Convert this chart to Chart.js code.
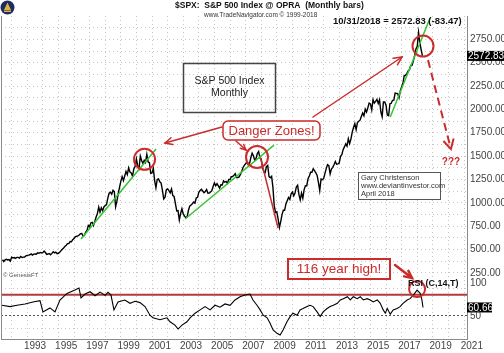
<!DOCTYPE html>
<html>
<head>
<meta charset="utf-8">
<script src="https://cdn.jsdelivr.net/npm/chart.js@4.4.0/dist/chart.umd.min.js"></script>
<style>
  html, body { margin: 0; padding: 0; background: #fff; }
  #wrap { position: relative; width: 504px; height: 353px; }
</style>
</head>
<body>
<div id="wrap"><canvas id="spx" width="504" height="353"></canvas></div>
<script>
// S&P 500 monthly closes, first value is May 1991
const firstYear = 1991;
const firstMonth = 5;
const closes = [
  390, 371, 388, 395, 388, 392, 375, 417,
  409, 413, 404, 415, 415, 408, 424, 414, 418, 419, 431, 436,
  439, 443, 452, 440, 450, 451, 448, 464, 459, 468, 462, 466,
  482, 467, 446, 451, 457, 444, 458, 475, 463, 472, 454, 459,
  470, 487, 501, 515, 533, 545, 562, 562, 584, 582, 605, 616,
  636, 641, 646, 654, 669, 671, 640, 652, 687, 705, 757, 741,
  786, 791, 757, 801, 848, 885, 954, 899, 947, 915, 955, 970,
  980, 1049, 1102, 1112, 1091, 1134, 1121, 957, 1017, 1099, 1164, 1229,
  1280, 1238, 1286, 1335, 1302, 1373, 1329, 1320, 1283, 1363, 1389, 1469,
  1394, 1366, 1499, 1452, 1421, 1455, 1431, 1518, 1437, 1429, 1315, 1320,
  1366, 1240, 1160, 1249, 1256, 1224, 1211, 1134, 1041, 1060, 1139, 1148,
  1130, 1107, 1147, 1077, 1067, 990, 912, 916, 815, 886, 936, 880,
  856, 841, 848, 917, 964, 975, 990, 1008, 996, 1051, 1058, 1112,
  1131, 1145, 1126, 1107, 1121, 1141, 1102, 1104, 1115, 1130, 1174, 1212,
  1181, 1204, 1181, 1157, 1192, 1191, 1234, 1220, 1229, 1207, 1249, 1248,
  1280, 1281, 1295, 1311, 1270, 1270, 1277, 1304, 1336, 1378, 1401, 1418,
  1438, 1407, 1421, 1482, 1531, 1503, 1455, 1474, 1527, 1549, 1481, 1468,
  1379, 1331, 1323, 1386, 1400, 1280, 1267, 1283, 1165, 969, 896, 903,
  826, 735, 798, 873, 919, 919, 987, 1021, 1057, 1036, 1096, 1115,
  1074, 1104, 1169, 1187, 1089, 1031, 1102, 1049, 1141, 1183, 1181, 1258,
  1286, 1327, 1326, 1364, 1345, 1321, 1292, 1219, 1131, 1253, 1247, 1258,
  1312, 1366, 1408, 1398, 1310, 1362, 1379, 1407, 1441, 1412, 1416, 1426,
  1498, 1515, 1569, 1598, 1631, 1606, 1686, 1633, 1682, 1757, 1806, 1848,
  1783, 1859, 1872, 1884, 1924, 1960, 1931, 2003, 1972, 2018, 2068, 2059,
  1995, 2105, 2068, 2086, 2107, 2063, 2104, 1972, 1920, 2079, 2080, 2044,
  1940, 1932, 2060, 2065, 2097, 2099, 2174, 2171, 2168, 2126, 2199, 2239,
  2279, 2364, 2363, 2384, 2412, 2423, 2470, 2472, 2519, 2575, 2648, 2674,
  2824, 2714, 2641, 2573
];

// RSI(C,14) lower panel, [year, value]
const rsiPoints = [
  [1991.38, 64], [1991.90, 62], [1992.35, 64], [1992.86, 66], [1993.37, 69], [1993.82, 71],
  [1994.01, 54], [1994.46, 60], [1994.78, 54], [1995.10, 72], [1995.55, 82], [1996.06, 87],
  [1996.32, 90], [1996.45, 75], [1996.71, 81], [1997.03, 84.5], [1997.35, 78.5], [1997.67, 84],
  [1997.99, 79], [1998.18, 83.6], [1998.37, 79.5], [1998.56, 57], [1998.82, 69], [1999.26, 72],
  [1999.59, 67], [1999.91, 70], [2000.23, 68], [2000.55, 62], [2000.87, 49], [2001.06, 45],
  [2001.51, 42], [2001.96, 45], [2002.15, 39], [2002.47, 34], [2002.67, 28], [2002.92, 34],
  [2003.24, 39], [2003.44, 45], [2003.76, 52], [2004.08, 57], [2004.40, 62], [2004.72, 57],
  [2005.04, 64], [2005.36, 61], [2005.68, 66], [2006.00, 64], [2006.32, 72], [2006.64, 77],
  [2006.96, 79.5], [2007.28, 81], [2007.47, 72], [2007.73, 64], [2007.93, 57], [2008.13, 49],
  [2008.38, 45], [2008.56, 37], [2008.76, 26.5], [2009.01, 21.5], [2009.21, 19], [2009.40, 26.5],
  [2009.65, 39], [2009.85, 46.7], [2010.04, 52], [2010.30, 49], [2010.49, 57], [2010.68, 59],
  [2010.94, 62], [2011.13, 64], [2011.33, 62], [2011.58, 54], [2011.78, 47], [2011.97, 54],
  [2012.22, 59], [2012.42, 62], [2012.62, 64], [2012.88, 67], [2013.07, 72], [2013.26, 74],
  [2013.52, 77], [2013.71, 72], [2013.90, 77], [2014.15, 74], [2014.35, 77], [2014.54, 72],
  [2014.79, 74], [2014.99, 72], [2015.18, 69], [2015.44, 72], [2015.63, 67], [2015.82, 57],
  [2015.95, 52], [2016.08, 59], [2016.27, 50.5], [2016.46, 57], [2016.71, 59], [2016.90, 62],
  [2017.09, 67], [2017.35, 72], [2017.54, 74], [2017.74, 79], [2017.99, 87], [2018.19, 82],
  [2018.30, 72], [2018.37, 60.66]
];

const priceTicks = [250, 500, 750, 1000, 1250, 1500, 1750, 2000, 2250, 2500, 2750];
const priceGrid = [250, 375, 500, 625, 750, 875, 1000, 1125, 1250, 1375, 1500, 1625, 1750,
  1875, 2000, 2125, 2250, 2375, 2500, 2625, 2750, 2875];
const rsiTicks = [50, 100];
const rsiGrid = [30, 90];
const rsiWarn = 80;
const gridYears = [];
for (let y = 1992; y <= 2021; y++) gridYears.push(y);
const yearLabels = [1993, 1995, 1997, 1999, 2001, 2003, 2005, 2007, 2009, 2011, 2013, 2015, 2017, 2019, 2021];

// drawn-in lines (year, price)
const trendA = [[1996.45, 612], [2001.26, 1575]];
const trendB = [[2003.12, 826], [2008.82, 1618]];
const trendC = [[2016.27, 1918], [2018.82, 2978]];
const crash = [[2007.94, 1490], [2009.08, 730]];
const projection = [[2018.69, 2528], [2020.16, 1575]];
const circles = [
  { x: 2000.52, y: 1465, axis: 'y', r: 10.5 },
  { x: 2007.73, y: 1490, axis: 'y', r: 11 },
  { x: 2018.37, y: 2678, axis: 'y', r: 10.5 },
  { x: 2017.99, y: 88.6, axis: 'y2', r: 8 }
];
const lastPrice = 2572.83;
const lastRsi = 60.66;

const RED = '#cc2b2b';
const FONT = 'Liberation Sans, Arial, sans-serif';
Chart.defaults.font.family = FONT;

const toXY = (pts) => pts.map(p => ({ x: p[0], y: p[1] }));
const priceData = closes.map((v, i) => ({ x: firstYear + (firstMonth + i) / 12, y: v }));

function arrow(ctx, x1, y1, x2, y2, head, width, color) {
  ctx.save();
  ctx.strokeStyle = color;
  ctx.lineWidth = width;
  ctx.lineCap = 'round';
  ctx.beginPath();
  ctx.moveTo(x1, y1);
  ctx.lineTo(x2, y2);
  ctx.stroke();
  const a = Math.atan2(y2 - y1, x2 - x1);
  ctx.beginPath();
  ctx.moveTo(x2 - head * Math.cos(a - 0.45), y2 - head * Math.sin(a - 0.45));
  ctx.lineTo(x2, y2);
  ctx.lineTo(x2 - head * Math.cos(a + 0.45), y2 - head * Math.sin(a + 0.45));
  ctx.stroke();
  ctx.restore();
}

function text(ctx, s, x, y, font, color, align) {
  ctx.font = font;
  ctx.fillStyle = color;
  ctx.textAlign = align || 'left';
  ctx.textBaseline = 'middle';
  ctx.fillText(s, x, y);
}

const decorations = {
  id: 'decorations',
  beforeDraw(chart) {
    const ctx = chart.ctx;
    ctx.save();
    ctx.fillStyle = '#fff';
    ctx.fillRect(0, 0, chart.width, chart.height);
    ctx.restore();
  },
  beforeDatasetsDraw(chart) {
    const { ctx, chartArea: ca, scales } = chart;
    const y2 = scales.y2;
    ctx.save();
    // rsi grid
    ctx.lineWidth = 1;
    ctx.setLineDash([1, 3]);
    ctx.strokeStyle = '#c8c8c8';
    rsiGrid.forEach(v => {
      const py = Math.round(y2.getPixelForValue(v)) + 0.5;
      ctx.beginPath(); ctx.moveTo(ca.left, py); ctx.lineTo(ca.right, py); ctx.stroke();
    });
    ctx.strokeStyle = '#555';
    ctx.setLineDash([2, 2]);
    const p50 = Math.round(y2.getPixelForValue(50)) + 0.5;
    ctx.beginPath(); ctx.moveTo(ca.left, p50); ctx.lineTo(ca.right, p50); ctx.stroke();
    // warning level
    ctx.setLineDash([]);
    ctx.strokeStyle = '#b23a3a';
    ctx.lineWidth = 2;
    const pw = y2.getPixelForValue(rsiWarn);
    ctx.beginPath(); ctx.moveTo(ca.left, pw); ctx.lineTo(ca.right, pw); ctx.stroke();
    ctx.restore();
  },
  afterDraw(chart) {
    const { ctx, chartArea: ca, scales } = chart;
    const x = scales.x;
    ctx.save();

    // left frame
    ctx.strokeStyle = '#8a8a8a';
    ctx.lineWidth = 1;
    ctx.beginPath(); ctx.moveTo(ca.left + 0.5, ca.top); ctx.lineTo(ca.left + 0.5, ca.bottom); ctx.stroke();

    // circles
    ctx.strokeStyle = RED;
    ctx.lineWidth = 2;
    circles.forEach(c => {
      ctx.beginPath();
      ctx.arc(x.getPixelForValue(c.x), scales[c.axis].getPixelForValue(c.y), c.r, 0, Math.PI * 2);
      ctx.stroke();
    });

    // projection arrow head + ???
    const pa = projection[0], pb = projection[1];
    const ax = x.getPixelForValue(pa[0]), ay = scales.y.getPixelForValue(pa[1]);
    const bx = x.getPixelForValue(pb[0]), by = scales.y.getPixelForValue(pb[1]);
    const ang = Math.atan2(by - ay, bx - ax);
    ctx.lineWidth = 2;
    ctx.beginPath();
    ctx.moveTo(bx - 11 * Math.cos(ang - 0.5), by - 11 * Math.sin(ang - 0.5));
    ctx.lineTo(bx, by);
    ctx.lineTo(bx - 11 * Math.cos(ang + 0.5), by - 11 * Math.sin(ang + 0.5));
    ctx.stroke();
    text(ctx, '???', bx, by + 13, 'bold 10px ' + FONT, RED, 'center');

    // S&P box
    ctx.strokeStyle = '#444';
    ctx.lineWidth = 1.5;
    ctx.strokeRect(183.5, 63.5, 92, 49);
    text(ctx, 'S&P 500 Index', 229.5, 81, '10.5px ' + FONT, '#222', 'center');
    text(ctx, 'Monthly', 229.5, 93, '10.5px ' + FONT, '#222', 'center');

    // Danger Zones callout
    ctx.strokeStyle = RED;
    ctx.lineWidth = 1.5;
    ctx.beginPath();
    ctx.roundRect(223, 121, 97, 19, 5);
    ctx.stroke();
    text(ctx, 'Danger Zones!', 271.5, 131, '13px ' + FONT, RED, 'center');
    arrow(ctx, 222, 127, 165, 143, 8, 1.5, RED);
    arrow(ctx, 236, 141, 246, 150, 6, 1.5, RED);
    arrow(ctx, 313, 117, 402, 57, 9, 1.5, RED);

    // 116 year high
    ctx.strokeStyle = RED;
    ctx.lineWidth = 2;
    ctx.strokeRect(288, 259, 102, 20);
    text(ctx, '116 year high!', 339, 269.5, '13.5px ' + FONT, RED, 'center');
    arrow(ctx, 395, 265, 412, 278, 8, 2.5, RED);
    text(ctx, 'RSI (C,14,T)', 408, 284, 'bold 9px ' + FONT, '#111');

    // signature box
    ctx.fillStyle = '#fff';
    ctx.fillRect(358.5, 172.5, 82, 27);
    ctx.strokeStyle = '#555';
    ctx.lineWidth = 1;
    ctx.strokeRect(358.5, 172.5, 82, 27);
    text(ctx, 'Gary Christenson', 361, 177.5, '7.5px ' + FONT, '#333');
    text(ctx, 'www.deviantinvestor.com', 361, 185.5, '7.5px ' + FONT, '#333');
    text(ctx, 'April 2018', 361, 193.5, '7.5px ' + FONT, '#333');

    // right axis flags
    const fy = scales.y.getPixelForValue(lastPrice);
    ctx.fillStyle = '#000';
    ctx.fillRect(ca.right, fy - 5, 37, 10);
    text(ctx, lastPrice.toFixed(2), ca.right + 1, fy + 0.5, '10px ' + FONT, '#fff');
    const ry = scales.y2.getPixelForValue(lastRsi);
    ctx.fillStyle = '#000';
    ctx.fillRect(ca.right, ry - 5, 25, 10);
    text(ctx, lastRsi.toFixed(2), ca.right + 1, ry + 0.5, '10px ' + FONT, '#fff');
    rsiTicks.forEach(v => {
      text(ctx, String(v), ca.right + 3, scales.y2.getPixelForValue(v) + 1.5, '10px ' + FONT, '#444');
    });

    // header
    text(ctx, '$SPX:  S&P 500 Index @ OPRA  (Monthly bars)', 175, 6, 'bold 8.5px ' + FONT, '#111');
    text(ctx, 'www.TradeNavigator.com \u00a9 1999-2018', 204, 15, '6.5px ' + FONT, '#333');
    text(ctx, '10/31/2018 = 2572.83 (-83.47)', 333, 21, 'bold 9.5px ' + FONT, '#111');
    text(ctx, '\u00a9 GenesisFT', 3, 275, '6px ' + FONT, '#555');

    // logo
    ctx.fillStyle = '#1f2d5c';
    ctx.beginPath(); ctx.arc(7.5, 7.5, 7, 0, Math.PI * 2); ctx.fill();
    ctx.fillStyle = '#d8b44a';
    ctx.beginPath(); ctx.moveTo(7.5, 2.5); ctx.lineTo(11, 10); ctx.lineTo(4, 10); ctx.closePath(); ctx.fill();
    ctx.fillRect(4, 10.5, 7, 1.5);

    ctx.restore();
  }
};

const line = (data, color, width, extra) => Object.assign({
  data: toXY(data), borderColor: color, borderWidth: width, pointRadius: 0,
  yAxisID: 'y', tension: 0, fill: false
}, extra || {});

new Chart(document.getElementById('spx'), {
  type: 'line',
  data: {
    datasets: [
      line(trendA, '#35c535', 1.5),
      line(trendB, '#35c535', 1.5),
      line(trendC, '#35c535', 1.5),
      line(crash, '#c03030', 1.5),
      line(projection, RED, 2, { borderDash: [8, 5] }),
      { data: priceData, borderColor: '#000', borderWidth: 1.4, pointRadius: 0, yAxisID: 'y', tension: 0 },
      { data: toXY(rsiPoints), borderColor: '#000', borderWidth: 1.1, pointRadius: 0, yAxisID: 'y2', tension: 0 }
    ]
  },
  options: {
    responsive: false,
    animation: false,
    events: [],
    layout: { padding: { top: 16, left: 1, right: 0, bottom: 0 } },
    plugins: { legend: { display: false }, tooltip: { enabled: false } },
    scales: {
      x: {
        type: 'linear',
        min: 1991.32,
        max: 2021.19,
        afterBuildTicks: (s) => { s.ticks = gridYears.map(v => ({ value: v })); },
        afterFit: (s) => { s.height = 14; },
        grid: { color: '#c4c4c4', lineWidth: 1, drawTicks: false },
        border: { display: true, color: '#8a8a8a', width: 1, dash: [1, 3] },
        ticks: {
          autoSkip: false, maxRotation: 0, padding: 1, labelOffset: 7.8,
          color: '#444', font: { size: 10 },
          callback: (v) => yearLabels.includes(v) ? String(v) : ''
        }
      },
      y: {
        position: 'right',
        min: -459,
        max: 3000,
        afterBuildTicks: (s) => { s.ticks = priceGrid.map(v => ({ value: v })); },
        afterFit: (s) => { s.width = 37; },
        grid: { color: '#c4c4c4', lineWidth: 1, drawTicks: false },
        border: { display: true, color: '#8a8a8a', width: 1, dash: [1, 3] },
        ticks: {
          padding: 3, color: '#444', font: { size: 10 },
          callback: (v) => priceTicks.includes(v) ? v.toFixed(2) : ''
        }
      },
      y2: { display: false, min: 12.88, max: 502.3 }
    }
  },
  plugins: [decorations]
});
</script>
</body>
</html>
